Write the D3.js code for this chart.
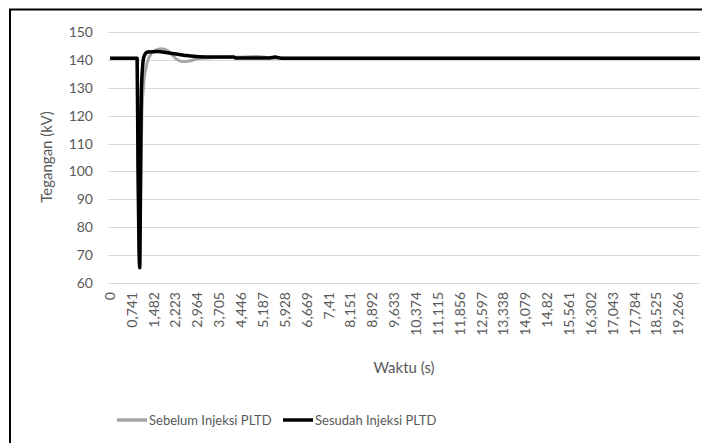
<!DOCTYPE html>
<html>
<head>
<meta charset="utf-8">
<script src="https://cdn.jsdelivr.net/npm/d3@7"></script>
<style>
  body { margin: 0; background: #fff; }
  text { font-family: Lato, "Open Sans", sans-serif; fill: #595959; }
</style>
</head>
<body>
<div class="chart"></div>
<script>
// waktu (s) and tegangan (kV)
const timeSebelum = [0, 0.92, 0.96, 1.0, 1.03, 1.08, 1.13, 1.22, 1.35, 1.55, 1.75, 2.0, 2.25, 2.45, 2.7, 3.0, 3.4, 4.5, 5.0, 5.6, 20];
const valSebelum  = [140.6, 140.6, 95, 66, 85, 120, 130, 137, 141.5, 143.5, 144, 143, 140.3, 139.4, 139.6, 140.5, 140.8, 141, 141.2, 140.6, 140.6];

const timeSesudah = [0, 0.92, 0.95, 0.98, 1.01, 1.03, 1.06, 1.1, 1.16, 1.28, 1.6, 2.0, 2.5, 3.0, 3.5, 4.2, 4.25, 5.4, 5.6, 5.8, 20];
const valSesudah  = [140.6, 140.6, 100, 75, 65.5, 90, 127, 137, 141.5, 142.8, 143, 142.5, 141.7, 141.1, 141, 141, 140.7, 140.7, 141, 140.6, 140.6];

const yTicks = [60, 70, 80, 90, 100, 110, 120, 130, 140, 150];
const xTickLabels = ["0", "0,741", "1,482", "2,223", "2,964", "3,705", "4,446", "5,187", "5,928",
  "6,669", "7,41", "8,151", "8,892", "9,633", "10,374", "11,115", "11,856", "12,597", "13,338",
  "14,079", "14,82", "15,561", "16,302", "17,043", "17,784", "18,525", "19,266"];

const seriesNames = ["Sebelum Injeksi PLTD", "Sesudah Injeksi PLTD"];
const seriesColors = ["#a6a6a6", "#000000"];
const seriesWidths = [3, 3.5];

const width = 711, height = 443;
const plot = { left: 108, right: 700, top: 32, bottom: 283 };

const svg = d3.select(".chart").append("svg")
  .attr("width", width)
  .attr("height", height);

// chart frame (only top and left edge visible)
svg.append("path")
  .attr("d", `M10,${height + 5} L10,9.5 L702,9.5`)
  .attr("fill", "none")
  .attr("stroke", "#000")
  .attr("stroke-width", 2);

const x = d3.scaleLinear().domain([0, 20]).range([110, plot.right]);
const y = d3.scaleLinear().domain([60, 150]).range([plot.bottom, plot.top]);

// gridlines
svg.append("g")
  .selectAll("line")
  .data(yTicks)
  .enter().append("line")
  .attr("x1", plot.left).attr("x2", plot.right)
  .attr("y1", d => Math.round(y(d)) + 0.5).attr("y2", d => Math.round(y(d)) + 0.5)
  .attr("stroke", "#d9d9d9")
  .attr("stroke-width", 1);

// y tick labels
const yAxis = svg.append("g")
  .attr("transform", `translate(${plot.left},0)`)
  .call(d3.axisLeft(y).tickValues(yTicks).tickSize(0).tickPadding(15));
yAxis.select(".domain").remove();
yAxis.selectAll("text").style("font-size", "14px").attr("fill", "#595959");

// x tick labels, rotated
const xVals = xTickLabels.map(s => +s.replace(",", "."));
svg.append("g")
  .selectAll("text")
  .data(xVals)
  .enter().append("text")
  .attr("transform", d => `translate(${x(d)},${plot.bottom + 9}) rotate(-90)`)
  .attr("text-anchor", "end")
  .attr("dy", "0.35em")
  .style("font-size", "14px")
  .text((d, i) => xTickLabels[i]);

// axis titles
svg.append("text")
  .attr("x", 404).attr("y", 373)
  .attr("text-anchor", "middle")
  .style("font-size", "15px")
  .text("Waktu (s)");

svg.append("text")
  .attr("transform", "translate(52,157) rotate(-90)")
  .attr("text-anchor", "middle")
  .style("font-size", "15px")
  .text("Tegangan (kV)");

// lines
const line = d3.line()
  .x(d => x(d[0]))
  .y(d => y(d[1]))
  .curve(d3.curveMonotoneX);

const seriesData = [
  d3.zip(timeSebelum, valSebelum),
  d3.zip(timeSesudah, valSesudah)
];

svg.append("g")
  .selectAll("path")
  .data(seriesData)
  .enter().append("path")
  .attr("d", line)
  .attr("fill", "none")
  .attr("stroke", (d, i) => seriesColors[i])
  .attr("stroke-width", (d, i) => seriesWidths[i])
  .attr("stroke-linejoin", "round");

// legend
const legendX = [117, 283];
const legend = svg.append("g")
  .selectAll("g")
  .data(seriesNames)
  .enter().append("g")
  .attr("transform", (d, i) => `translate(${legendX[i]},420)`);

legend.append("line")
  .attr("x1", 0).attr("x2", 30)
  .attr("stroke", (d, i) => seriesColors[i])
  .attr("stroke-width", 3.5);

legend.append("text")
  .attr("x", 32)
  .attr("dy", "0.35em")
  .style("font-size", "13px")
  .text(d => d);
</script>
</body>
</html>
